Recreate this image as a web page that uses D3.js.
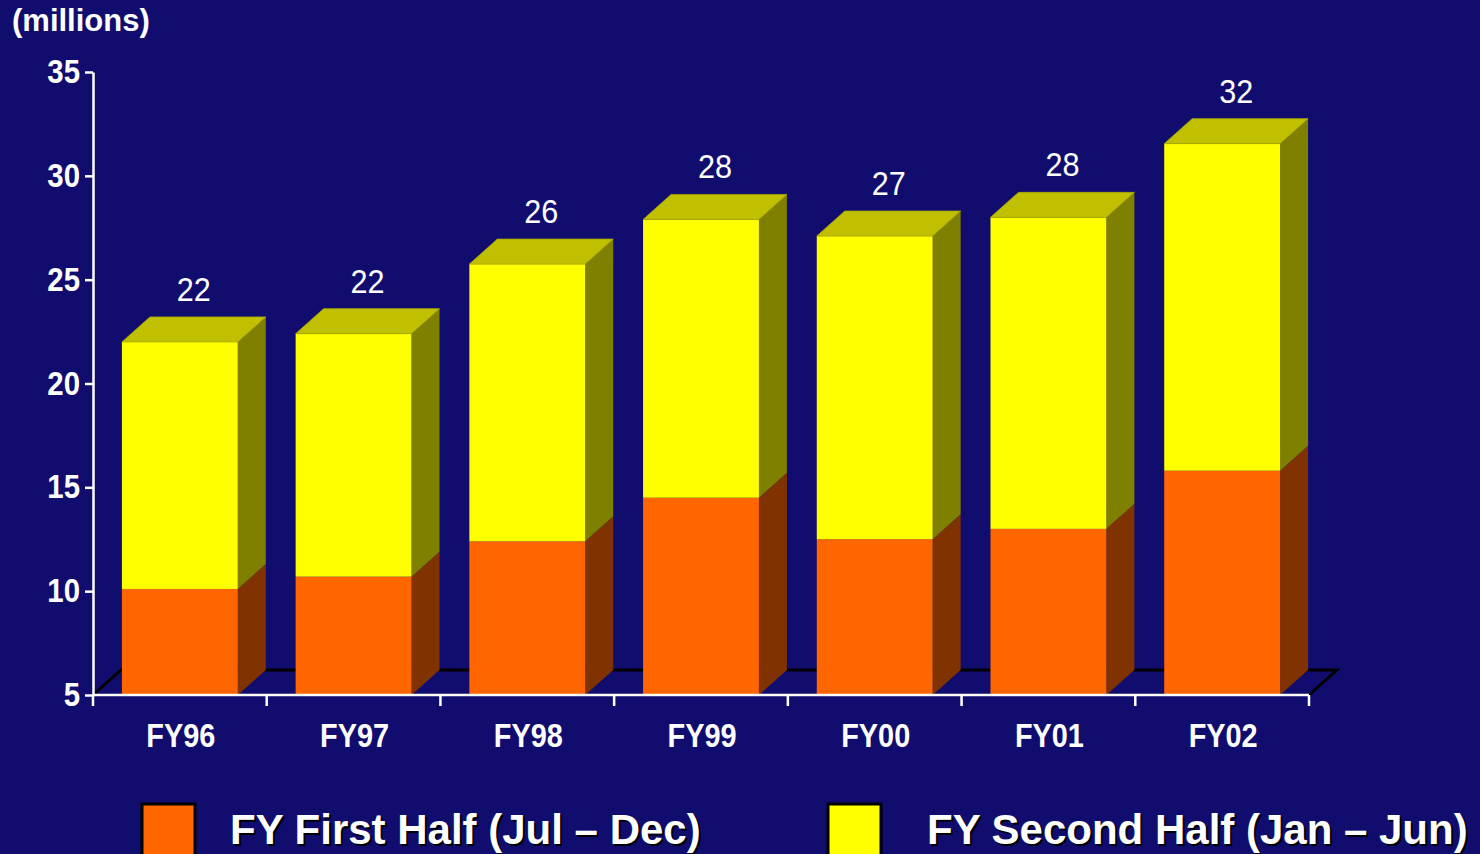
<!DOCTYPE html>
<html><head><meta charset="utf-8">
<script src="https://cdn.jsdelivr.net/npm/d3@7"></script>
<style>html,body{margin:0;padding:0;background:#110D6F;overflow:hidden}</style>
</head><body><svg id="chart" width="1480" height="854"></svg>
<script>
const categories = ["FY96","FY97","FY98","FY99","FY00","FY01","FY02"];
const firstHalf  = [10.1, 10.7, 12.4, 14.5, 12.5, 13.0, 15.8];
const secondHalf = [11.9, 11.7, 13.35, 13.4, 14.6, 15.0, 15.75];
const yTicks = [5, 10, 15, 20, 25, 30, 35];
const seriesNames = ["FY First Half (Jul – Dec)", "FY Second Half (Jan – Jun)"];
const unitLabel = "(millions)";

const FONT = '"Liberation Sans", Arial, sans-serif';
const colors = {
  front: ["#FF6600", "#FFFF00"],
  side:  ["#803300", "#808000"],
  top:   ["#993D00", "#C0C000"]
};
const dx = 28, dy = 25, sx = 0.89;

const svg = d3.select("#chart");
svg.append("rect").attr("width",1480).attr("height",854).attr("fill","#110D6F");

const x = d3.scaleBand().domain(categories).range([93,1309]).paddingInner(0.333).paddingOuter(0.1665);
const y = d3.scaleLinear().domain([5,35]).range([695,72]);
const yc = v => y(Math.max(v, y.domain()[0]));
const w = x.bandwidth();

const table = categories.map((c,i)=>({cat:c, first:firstHalf[i], second:secondHalf[i]}));
const stacked = d3.stack().keys(["first","second"])(table);

// floor
svg.append("path")
  .attr("d", `M${x.range()[0]},${y(5)} L${x.range()[0]+dx},${y(5)-dy} L${x.range()[1]+dx},${y(5)-dy} L${x.range()[1]},${y(5)}`)
  .attr("fill","none").attr("stroke","#000").attr("stroke-width",3).attr("stroke-linejoin","miter");

const bars = svg.append("g");
stacked.forEach((s,si)=>{
  const g = bars.append("g");
  g.selectAll("path.side").data(s).join("path").attr("class","side")
    .attr("d", p=>{
      const xr = x(p.data.cat)+w, y1=yc(p[1]), y0=yc(p[0]);
      return `M${xr},${y1} L${xr+dx},${y1-dy} L${xr+dx},${y0-dy} L${xr},${y0} Z`;
    })
    .attr("fill", colors.side[si]);
  g.selectAll("rect").data(s).join("rect")
    .attr("x", p=>x(p.data.cat)).attr("width", w)
    .attr("y", p=>yc(p[1])).attr("height", p=>yc(p[0])-yc(p[1]))
    .attr("fill", colors.front[si]);
  if (si === stacked.length-1) {
    g.selectAll("path.top").data(s).join("path").attr("class","top")
      .attr("d", p=>{
        const xl = x(p.data.cat), yt=yc(p[1]);
        return `M${xl},${yt} L${xl+dx},${yt-dy} L${xl+w+dx},${yt-dy} L${xl+w},${yt} Z`;
      })
      .attr("fill", colors.top[si]).attr("stroke","#A8A800").attr("stroke-width",0.8);
    svg.append("g").selectAll("text").data(s).join("text")
      .attr("transform", p=>`translate(${x(p.data.cat)+w/2+dx/2},${yc(p[1])-dy-16}) scale(0.9,1)`)
      .attr("text-anchor","middle")
      .attr("fill","#fff").attr("font-family",FONT).attr("font-size",34)
      .text(p=>Math.round(p.data.first+p.data.second));
  }
});

// y axis
const yAxis = svg.append("g").attr("transform","translate(93,0)")
  .call(d3.axisLeft(y).tickValues(yTicks).tickSize(8).tickSizeOuter(0).tickPadding(5).tickFormat(d3.format("d")));
yAxis.select(".domain").attr("stroke","#fff").attr("stroke-width",2.5);
yAxis.selectAll(".tick line").attr("stroke","#fff").attr("stroke-width",2.5);
yAxis.selectAll(".tick text")
  .attr("fill","#fff").attr("font-family",FONT).attr("font-weight","bold").attr("font-size",33)
  .attr("x", -13/sx).attr("transform",`scale(${sx},1)`);

// x axis
const step = x.step(), gap = step - w;
const bounds = categories.map(c=>x(c)-gap/2).concat([x(categories[categories.length-1])+w+gap/2]);
const xAxis = svg.append("g");
xAxis.append("line").attr("x1",x.range()[0]).attr("x2",x.range()[1]).attr("y1",y(5)).attr("y2",y(5))
  .attr("stroke","#fff").attr("stroke-width",2.5);
xAxis.selectAll("line.tick").data(bounds).join("line").attr("class","tick")
  .attr("x1",d=>d).attr("x2",d=>d).attr("y1",y(5)).attr("y2",y(5)+11)
  .attr("stroke","#fff").attr("stroke-width",2.5);
xAxis.selectAll("text").data(categories).join("text")
  .attr("transform", c=>`translate(${x(c)+w/2+1},747) scale(0.875,1)`)
  .attr("text-anchor","middle").attr("fill","#fff")
  .attr("font-family",FONT).attr("font-weight","bold").attr("font-size",33)
  .text(c=>c);

// unit label
svg.append("text").attr("x",12).attr("y",31).attr("fill","#fff")
  .attr("font-family",FONT).attr("font-weight","bold").attr("font-size",31).text(unitLabel);

// legend
const legendPos = [{rx:142, tx:230},{rx:828, tx:927}];
seriesNames.forEach((name,i)=>{
  const lp = legendPos[i];
  svg.append("rect").attr("x",lp.rx).attr("y",804).attr("width",53).attr("height",60)
    .attr("fill",colors.front[i]).attr("stroke","#000").attr("stroke-width",3);
  svg.append("text").attr("x",lp.tx+2).attr("y",846).attr("fill","#000")
    .attr("font-family",FONT).attr("font-weight","bold").attr("font-size",42).text(name);
  svg.append("text").attr("x",lp.tx).attr("y",844).attr("fill","#fff")
    .attr("font-family",FONT).attr("font-weight","bold").attr("font-size",42).text(name);
});
</script></body></html>
